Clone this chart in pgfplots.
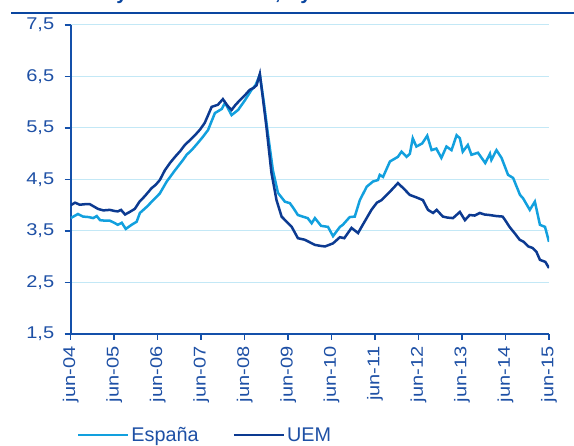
\documentclass[border=0pt]{standalone}
\usepackage{pgfplots}
\pgfplotsset{compat=1.18}
\usepackage{fontspec}
\setmainfont{Liberation Sans}
\newfontfamily\tickfont{Liberation Sans}[FakeStretch=1.18]

\definecolor{espana}{RGB}{18,160,222}
\definecolor{uem}{RGB}{12,58,145}
\definecolor{axiscol}{RGB}{20,80,170}
\definecolor{textcol}{RGB}{30,80,165}
\definecolor{gridcol}{RGB}{195,232,246}
\definecolor{titlerule}{RGB}{10,70,160}

\begin{document}
\begin{tikzpicture}
\path[use as bounding box] (0pt,0pt) rectangle (574pt,446pt);
% rule under the (cut off) title
\draw[titlerule, line width=1.8pt] (11pt,433.3pt) -- (574pt,433.3pt);
\node[anchor=base, inner sep=0pt, text=titlerule, font=\bfseries\fontsize{20}{24}\selectfont] at (122pt,446.5pt) {y};
\node[anchor=base, inner sep=0pt, text=titlerule, font=\bfseries\fontsize{20}{24}\selectfont] at (278pt,446.5pt) {,};
\node[anchor=base, inner sep=0pt, text=titlerule, font=\bfseries\fontsize{20}{24}\selectfont] at (306pt,446.5pt) {y};

\begin{axis}[
    at={(70.7pt,112pt)}, anchor=south west,
    width=478.3pt, height=309pt, scale only axis,
    xmin=0, xmax=132, ymin=1.5, ymax=7.5,
    axis x line*=bottom, axis y line*=left,
    axis line style={draw=axiscol, line width=2pt},
    xtick={0,12,...,132},
    xticklabels={jun-04,jun-05,jun-06,jun-07,jun-08,jun-09,jun-10,jun-11,jun-12,jun-13,jun-14,jun-15},
    ytick={1.5,2.5,...,7.5},
    yticklabels={{1,5},{2,5},{3,5},{4,5},{5,5},{6,5},{7,5}},
    tick align=outside, major tick length=6pt,
    tick style={draw=axiscol, line width=1.5pt},
    xticklabel style={rotate=90, anchor=east, text=textcol,
        font=\tickfont\fontsize{17}{19}\selectfont},
    yticklabel style={text=textcol, font=\tickfont\fontsize{17}{19}\selectfont},
    xticklabel shift=3pt, yticklabel shift=7pt,
    ymajorgrids, grid style={draw=gridcol, line width=1pt},
    legend columns=2,
    legend style={at={(0.0126,-0.327)}, anchor=west, draw=none, fill=none,
        inner sep=0pt, text=textcol, font=\fontsize{19.8}{22}\selectfont,
        /tikz/every even column/.append style={column sep=32pt}},
    legend image code/.code={\draw[#1] (0pt,0pt) -- (50pt,0pt);},
]

\addplot[espana, line width=2.5pt] coordinates {
(0,3.75)(2,3.83)(3.4,3.78)(5,3.77)(6.2,3.75)(7.2,3.79)(8.1,3.71)(9.5,3.70)
(10.8,3.70)(12,3.66)(13,3.62)(14.1,3.66)(15.2,3.54)(16.8,3.62)(18.2,3.68)
(19.1,3.85)(21,3.97)(22.8,4.10)(24.6,4.23)(26.5,4.46)(28.8,4.68)(31,4.88)
(32,4.98)(33.5,5.08)(35.1,5.21)(36.5,5.33)(37.9,5.46)(39.8,5.79)(41.7,5.87)
(42.6,5.99)(44.4,5.75)(46.2,5.85)(48.1,6.04)(49.9,6.24)(51,6.33)(52.2,6.53)
(53.3,6.00)(54.4,5.40)(55.8,4.68)(57.2,4.24)(59.1,4.07)(60.5,4.04)(61.6,3.93)
(62.7,3.81)(64,3.78)(65.4,3.75)(66.5,3.65)(67.4,3.75)(69.1,3.60)(71,3.58)
(72.4,3.40)(74.3,3.58)(75.1,3.62)(77,3.77)(78.4,3.78)(79.8,4.10)(81.7,4.36)
(83.4,4.46)(84.8,4.49)(85.3,4.59)(86.2,4.55)(88.1,4.85)(90.3,4.94)(91.3,5.04)
(92.7,4.94)(93.6,5.00)(94.4,5.30)(95.4,5.14)(97,5.20)(98.4,5.35)(99.6,5.07)
(100.9,5.10)(102.3,4.92)(103.7,5.14)(105.1,5.07)(106.5,5.36)(107.4,5.30)
(108.2,5.04)(109.6,5.17)(110.6,4.98)(112.4,5.02)(114.4,4.82)(115.7,5.00)
(116.1,4.88)(117.5,5.07)(118.9,4.92)(120.7,4.59)(122.1,4.53)(124,4.20)
(124.8,4.14)(126.7,3.91)(128.1,4.07)(129.5,3.62)(130.9,3.58)(132,3.29)
};
\addlegendentry{España}

\addplot[uem, line width=2.5pt] coordinates {
(0,4.00)(1.2,4.05)(2.5,4.01)(3.9,4.02)(5.3,4.02)(7.5,3.93)(9,3.90)(10.8,3.91)
(12,3.89)(13,3.88)(13.9,3.91)(15,3.82)(16.3,3.87)(17.7,3.93)(19,4.07)
(20.5,4.18)(22.3,4.33)(23.5,4.40)(24.6,4.49)(26,4.68)(27.4,4.82)(28.8,4.94)
(30.2,5.05)(31.5,5.17)(33,5.27)(34.3,5.36)(35.7,5.47)(37,5.60)(38.9,5.91)
(40.6,5.95)(42,6.06)(43.3,5.93)(44.4,5.85)(45.5,5.95)(46.7,6.04)(48,6.13)
(49.4,6.24)(50.5,6.28)(51.3,6.33)(52.2,6.55)(53,6.10)(54,5.53)(55.4,4.63)
(56.8,4.10)(58.2,3.78)(59.6,3.68)(61,3.58)(62.7,3.36)(64.6,3.33)(66,3.28)
(67.4,3.23)(69,3.21)(70.2,3.20)(71.3,3.23)(72.4,3.26)(74.3,3.38)(75.5,3.36)
(77.5,3.56)(79.3,3.46)(80.6,3.62)(83,3.91)(84.5,4.05)(85.8,4.10)(87.5,4.22)
(89,4.33)(90.3,4.43)(91.8,4.33)(93.6,4.20)(95.5,4.15)(97.2,4.10)(98.6,3.91)
(100,3.85)(101,3.91)(102.7,3.78)(104,3.76)(105.5,3.75)(107.4,3.87)(108.8,3.71)
(110.1,3.81)(111.5,3.80)(112.9,3.85)(114.2,3.82)(115.6,3.81)(117.5,3.79)
(119.2,3.78)(120,3.70)(121.1,3.58)(122.6,3.45)(123.9,3.33)(125,3.29)
(126.3,3.20)(127.5,3.17)(128.5,3.10)(129.5,2.94)(131,2.90)(132,2.78)
};
\addlegendentry{UEM}

\end{axis}
\end{tikzpicture}
\end{document}
